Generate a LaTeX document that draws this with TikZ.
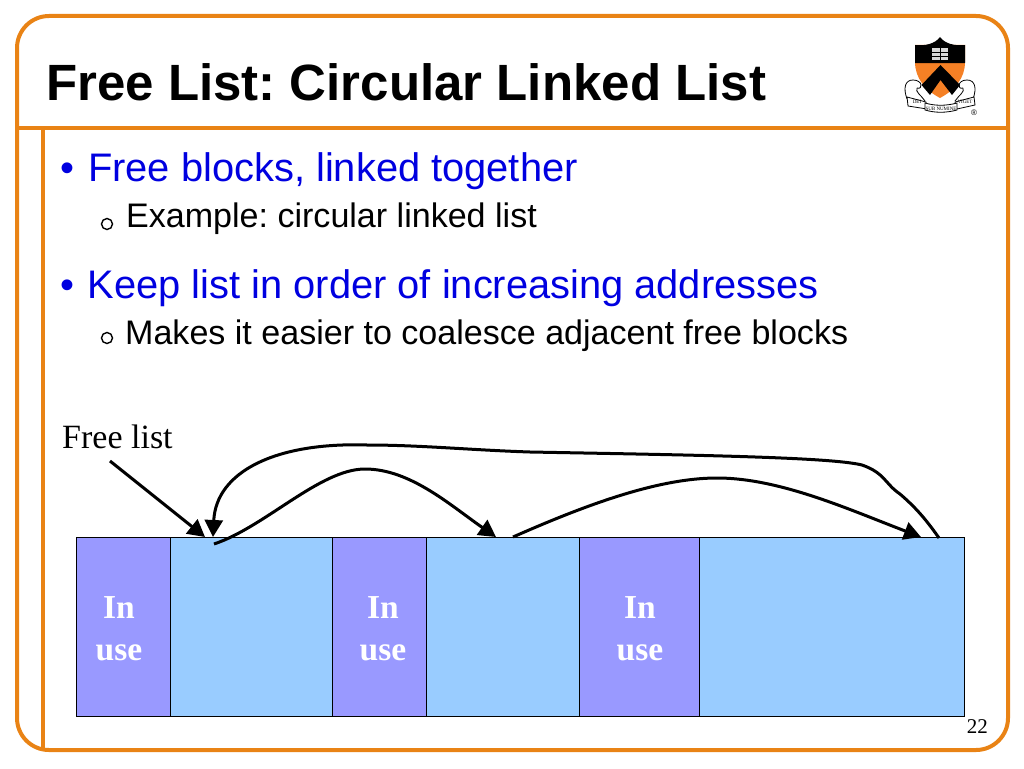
\documentclass[tikz,border=0pt]{standalone}
\usepackage{fontspec}
\setmainfont{Liberation Serif}
\newfontfamily\arialfont{Liberation Sans}
\usetikzlibrary{arrows.meta}
\frenchspacing
\definecolor{frameorange}{HTML}{E98315}
\definecolor{crestorange}{HTML}{F58025}
\definecolor{bulletblue}{HTML}{0000E0}
\definecolor{usedblock}{HTML}{9999FF}
\definecolor{freeblock}{HTML}{99CCFF}
\tikzset{
  blockbox/.style={draw=black,line width=1pt,anchor=north west,minimum height=179pt,inner sep=0pt,outer sep=0pt},
  usedbox/.style={blockbox,fill=usedblock},
  freebox/.style={blockbox,fill=freeblock},
  inuse/.style={font=\fontsize{33.5}{42}\selectfont\bfseries,text=white,align=center,inner sep=0pt},
  mainitem/.style={font=\arialfont\fontsize{39.85}{44}\selectfont,text=bulletblue,anchor=base west,inner sep=0pt},
  subitem/.style={font=\arialfont\fontsize{34.05}{38}\selectfont,anchor=base west,inner sep=0pt},
  subbullet/.style={circle,draw=black,line width=1.4pt,minimum size=11pt,inner sep=0pt},
  link/.style={draw=black,line width=3pt,-{Triangle[length=17pt,width=18pt]}},
  scrollpart/.style={draw=black,fill=white,line width=0.8pt},
  motto/.style={font=\fontsize{5}{6}\selectfont,inner sep=0pt}
}
\begin{document}
\begin{tikzpicture}[x=1pt,y=-1pt]
  \useasboundingbox (0,0) rectangle (1024,768);
  % slide frame
  \draw[frameorange,line width=4pt,rounded corners=32pt] (17,16) rectangle (1008,750);
  \draw[frameorange,line width=4pt] (17,128) -- (1008,128);
  \draw[frameorange,line width=4pt] (43,128) -- (43,750);
  % text
  \node[font=\arialfont\bfseries\fontsize{51}{56}\selectfont,anchor=base west,inner sep=0pt] (title) at (46,100) {Free List: Circular Linked List};
  \node[mainitem] (bullet1) at (60,181) {\textbullet};
  \node[mainitem] (item1) at (88,181) {Free blocks, linked together};
  \node[subbullet] (sub1) at (107,224) {};
  \node[subitem] (subtext1) at (126,227) {Example: circular linked list};
  \node[mainitem] (bullet2) at (60,298) {\textbullet};
  \node[mainitem] (item2) at (87.5,298) {Keep list in order of increasing addresses};
  \node[subbullet] (sub2) at (107,338) {};
  \node[subitem] (subtext2) at (125,344) {Makes it easier to coalesce adjacent free blocks};
  \node[font=\fontsize{34}{40}\selectfont,anchor=base west,inner sep=0pt] (freelist) at (62,448) {Free list};
  \node[font=\fontsize{21}{24}\selectfont,anchor=base east,inner sep=0pt] (pagenum) at (988,733) {22};
  % blocks
  \node[usedbox,minimum width=94pt] (used1) at (76.5,537.5) {};
  \node[freebox,minimum width=162pt] (free1) at (170.5,537.5) {};
  \node[usedbox,minimum width=94pt] (used2) at (332.5,537.5) {};
  \node[freebox,minimum width=153pt] (free2) at (426.5,537.5) {};
  \node[usedbox,minimum width=120pt] (used3) at (579.5,537.5) {};
  \node[freebox,minimum width=265pt] (free3) at (699.5,537.5) {};
  \node[inuse] (label1) at (119,629) {In\\use};
  \node[inuse] (label2) at (383,629) {In\\use};
  \node[inuse] (label3) at (640,629) {In\\use};
  % connectors
  \coordinate (listfoot) at (110,461);
  \coordinate (head1) at (205,537);
  \coordinate (head1b) at (213,537);
  \coordinate (tail1) at (214,544);
  \coordinate (head2) at (496,537);
  \coordinate (tail2) at (513,537);
  \coordinate (head3) at (921,537);
  \coordinate (tail3) at (939,538);
  \draw[link] (listfoot) -- (head1);
  \draw[link] (tail1) .. controls (265,527) and (320,469) .. (365,469)
    .. controls (410,469) and (450,505) .. (head2);
  \draw[link] (tail2) .. controls (590,503) and (660,478) .. (717,478)
    .. controls (780,478) and (850,510) .. (head3);
  \draw[link] (tail3) .. controls (925,518) and (915,507) .. (900,494)
    .. controls (885,484) and (885,473) .. (862,465)
    .. controls (830,457) and (690,455) .. (530,452)
    .. controls (470,450) and (420,445) .. (367,445)
    .. controls (275,442) and (216,472) .. (head1b);
  % crest
  \begin{scope}
    \draw[scrollpart] (907,99) .. controls (903,88) and (905,80) .. (913,80)
      .. controls (923,80) and (923,90) .. (917,88) (917,88) .. controls (915,92) and (921,95) .. (925,101);
    \draw[scrollpart] (973,99) .. controls (977,88) and (975,80) .. (967,80)
      .. controls (957,80) and (957,90) .. (963,88) (963,88) .. controls (965,92) and (959,95) .. (955,101);
    \path[fill=crestorange] (915,45) -- (965,45) -- (965,62)
      .. controls (965,78) and (955,90) .. (940,98)
      .. controls (925,90) and (915,78) .. (915,62) -- cycle;
    \path[fill=black] (915,45) .. controls (925,46) and (935,44) .. (940,37)
      .. controls (945,44) and (955,46) .. (965,45) -- (965,63) -- (915,63) -- cycle;
    \path[fill=black] (940.5,65) -- (960,85) -- (952,95) -- (940.5,80) -- (930,95) -- (921.5,85) -- cycle;
    \path[fill=black!15] (932,48) rectangle (948,60);
    \draw[black,line width=0.8pt] (940,48) -- (940,60) (932,52) -- (948,52) (932,56) -- (948,56);
    \draw[scrollpart] (907,97) -- (926,102) -- (927,109) -- (908,106) -- cycle;
    \draw[scrollpart] (955,102) -- (974,97) -- (975,105) -- (957,109) -- cycle;
    \draw[scrollpart] (925,103) .. controls (935,106) and (946,106) .. (957,103)
      -- (957,110) .. controls (946,113) and (935,113) .. (925,110) -- cycle;
    \node[motto] (mottoa) at (917,102) {DEI};
    \node[motto] (mottob) at (941,108.5) {SUB NUMINE};
    \node[motto] (mottoc) at (965,102) {VIGET};
    \node[font=\arialfont\fontsize{8}{9}\selectfont,inner sep=0pt] (regmark) at (974,113) {®};
  \end{scope}
\end{tikzpicture}
\end{document}
